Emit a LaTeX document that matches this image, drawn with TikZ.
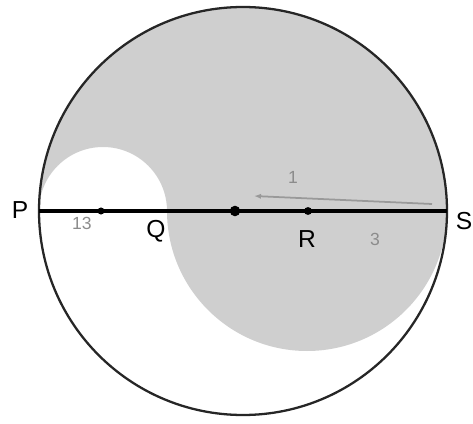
\documentclass[tikz,border=0pt]{standalone}
\usepackage{fontspec}
\setsansfont{Liberation Sans}
\usetikzlibrary{arrows.meta}
\begin{document}
\begin{tikzpicture}[x=0.02cm,y=0.02cm,
  lbl/.style={font=\sffamily\fontsize{14}{16}\selectfont,inner sep=0pt},
  scrib/.style={font=\sffamily\fontsize{10}{12}\selectfont,text=black!45,inner sep=0pt},
  dot/.style={circle,fill=black,inner sep=0pt,minimum size=#1}]
\useasboundingbox (0,0) rectangle (473,423);
\coordinate (P) at (39,212);
\coordinate (S) at (447,212);
\coordinate (Q) at (167,212);
% shaded region
\fill[black!19] (P) arc[start angle=180,end angle=0,radius=204]
  arc[start angle=0,end angle=-180,radius=140]
  arc[start angle=0,end angle=180,radius=64] -- cycle;
% big circle
\draw[line width=1.3pt,black!85] (243,212) circle[radius=204];
% diameter
\draw[line width=2.2pt] (P) -- (S);
\node[dot=4pt] (C1) at (101,212) {};
\node[dot=6pt] (O) at (235,212) {};
\node[dot=4.5pt] (R) at (308,212) {};
% labels
\node[lbl] (lP) at (20,213) {P};
\node[lbl] (lQ) at (156,192) {Q};
\node[lbl] (lR) at (307,184) {R};
\node[lbl] (lS) at (464,202) {S};
% faint handwritten marks
\coordinate (a1) at (432,219);
\coordinate (a2) at (254,227);
\draw[black!40,line width=1pt,-{Latex[length=4pt]}] (a1) -- (a2);
\node[scrib] (n1) at (293,246) {1};
\node[scrib] (n13) at (82,200) {13};
\node[scrib] (n3) at (375,184) {3};
\end{tikzpicture}
\end{document}
